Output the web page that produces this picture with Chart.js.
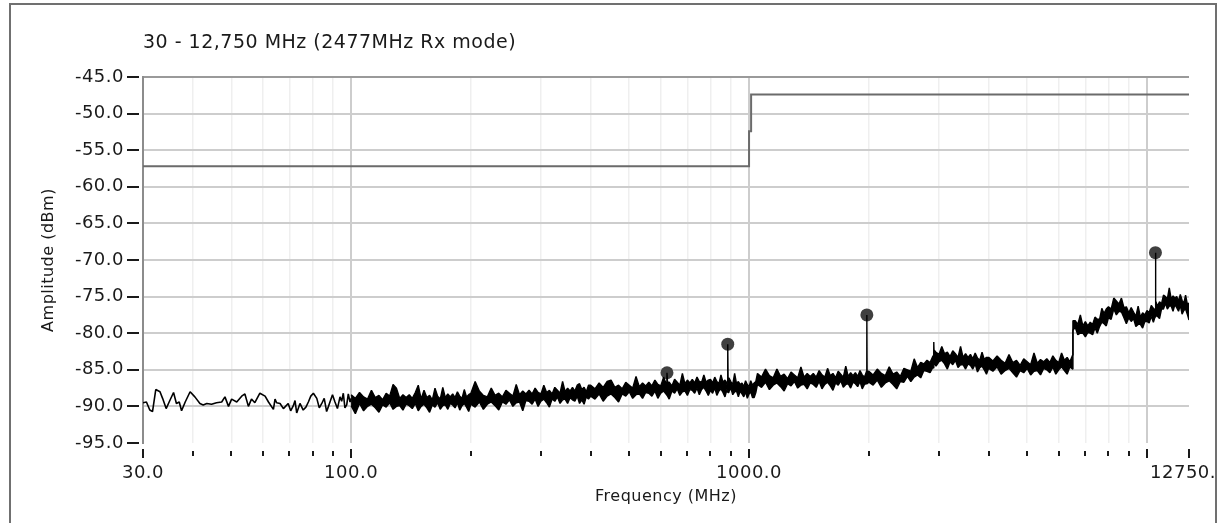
<!DOCTYPE html>
<html>
<head>
<meta charset="utf-8">
<script src="https://cdn.jsdelivr.net/npm/chart.js@4.4.1/dist/chart.umd.min.js"></script>
<style>
  html, body { margin: 0; padding: 0; background: #fff; }
  #wrap { position: relative; width: 1219px; height: 523px; overflow: hidden; }
  #frame {
    position: absolute; left: 9px; top: 3px; width: 1204px; height: 600px;
    border: 2px solid #707070; pointer-events: none;
  }
  #mask { position: absolute; left: 1217px; top: 0; width: 2px; height: 523px; background: #fff; }
</style>
</head>
<body>
<div id="wrap">
  <canvas id="chart" width="1219" height="523"></canvas>
  <div id="frame"></div>
  <div id="mask"></div>
</div>
<script>
// thin part of the trace, [MHz, dBm]
const trace30to100 = [
  [30.0,-89.5],[30.6,-89.4],[31.2,-90.5],[31.7,-90.7],[32.3,-87.7],[33.1,-88.0],[33.6,-88.9],[34.3,-90.3],
  [34.9,-89.4],[35.8,-88.1],[36.4,-89.6],[37.0,-89.4],[37.5,-90.6],[38.3,-89.4],[39.4,-88.0],[40.5,-88.7],
  [41.7,-89.6],[42.5,-89.8],[43.4,-89.6],[44.6,-89.7],[45.9,-89.5],[47.3,-89.4],[48.2,-88.7],[49.2,-90.0],
  [50.1,-89.0],[51.6,-89.4],[53.1,-88.6],[54.1,-88.3],[55.2,-90.0],[56.2,-89.0],[57.3,-89.5],[59.0,-88.2],
  [60.8,-88.6],[62.0,-89.4],[63.8,-90.4],[64.4,-89.0],[65.0,-89.5],[66.3,-89.6],[67.6,-90.3],[69.5,-89.6],
  [70.5,-90.6],[71.6,-89.9],[72.3,-89.2],[73.0,-90.9],[74.4,-89.6],[75.8,-90.5],[77.0,-90.1],[78.1,-89.4],
  [79.2,-88.6],[80.4,-88.2],[82.0,-88.9],[83.2,-90.2],[84.4,-89.6],[85.6,-88.9],[86.8,-90.7],[87.6,-90.1],
  [88.5,-89.4],[89.8,-88.4],[91.1,-89.4],[92.4,-90.3],[93.8,-88.7],[94.7,-89.3],[95.6,-88.2],[96.5,-90.2],
  [97.5,-89.8],[98.4,-88.3],[99.4,-89.4],[100,-88.9]
];

// dense part of the trace as a noise band: [MHz, top dBm, bottom dBm]
const band100to1000 = [
  [100,-88.4,-89.9],[102.5,-88.9,-91.0],[105,-88.1,-89.6],[107.5,-88.7,-90.6],[110,-89.0,-90.0],[112.5,-87.8,-89.7],
  [115,-88.8,-90.2],[117.5,-88.5,-90.8],[120,-89.1,-89.8],[122.5,-88.2,-90.1],[125,-88.6,-89.5],[127.5,-87.0,-90.4],
  [130,-87.5,-90.0],[132.5,-88.9,-89.9],[135,-88.4,-90.5],[137.5,-88.8,-89.7],[140,-88.4,-89.9],[142.5,-88.9,-90.3],
  [145,-88.1,-89.6],[147.5,-87.1,-90.6],[150,-89.0,-90.0],[152.5,-87.8,-89.7],[155,-88.8,-90.2],[157.5,-88.5,-90.8],
  [160,-89.1,-89.8],[162.5,-87.5,-90.1],[165,-88.6,-89.5],[167.5,-89.0,-90.4],[170,-87.4,-89.9],[172.5,-88.8,-89.8],
  [175,-88.3,-90.4],[177.5,-88.7,-89.6],[180,-88.3,-89.8],[182.5,-88.8,-90.2],[185,-88.0,-89.5],[187.5,-88.6,-90.5],
  [190,-88.9,-89.9],[192.5,-87.7,-89.6],[195,-88.7,-90.1],[197.5,-88.4,-90.7],
  [200,-88.2,-89.7],[205,-86.6,-90.1],[210,-87.9,-89.4],[215,-88.5,-90.4],[220,-88.7,-89.7],[225,-87.5,-89.4],
  [230,-88.5,-89.9],[235,-88.2,-90.5],[240,-88.7,-89.4],[245,-87.8,-89.7],[250,-88.2,-89.1],[255,-88.6,-90.0],
  [260,-87.0,-89.5],[265,-88.4,-89.4],[270,-87.9,-90.6],[275,-88.3,-89.2],[280,-87.8,-89.3],[285,-88.3,-89.7],
  [290,-87.5,-89.0],[295,-88.1,-90.0],[300,-88.3,-89.3],[305,-87.1,-89.0],[310,-88.1,-89.5],[315,-87.8,-90.1],
  [320,-88.3,-89.0],[325,-87.4,-89.3],[330,-87.8,-88.7],[335,-88.2,-89.6],[340,-86.6,-89.1],[345,-88.0,-89.0],
  [350,-87.5,-89.6],[355,-87.9,-88.8],[360,-87.4,-89.1],[365,-87.9,-89.3],[370,-87.1,-88.6],[375,-86.9,-89.6],
  [380,-87.7,-89.1],[385,-87.4,-89.7],[390,-88.0,-88.7],[395,-87.1,-89.0],
  [400,-87.1,-88.6],[410,-87.6,-89.0],[420,-86.8,-88.3],[430,-87.4,-89.3],[440,-86.6,-88.6],[450,-86.4,-88.3],
  [460,-87.4,-88.8],[470,-87.1,-89.4],[480,-87.6,-88.3],[490,-86.7,-88.6],[500,-87.1,-88.0],[510,-87.5,-88.9],
  [520,-85.9,-88.4],[530,-87.3,-88.3],[540,-86.8,-88.9],[550,-87.2,-88.1],[560,-86.7,-88.2],[570,-87.2,-88.6],
  [580,-86.4,-87.9],[590,-87.0,-88.9],[600,-87.2,-88.2],[610,-86.0,-87.9],[620,-87.0,-88.4],[622,-85.4,-88.4],
  [624,-86.7,-88.6],[630,-86.7,-89.0],[640,-87.2,-87.9],[650,-86.3,-88.2],[660,-86.7,-87.6],[670,-87.1,-88.5],
  [680,-85.5,-88.0],[690,-86.9,-87.9],[700,-86.4,-88.5],[710,-86.8,-87.7],[720,-86.3,-87.8],[730,-86.8,-88.2],
  [740,-86.0,-87.5],[750,-86.6,-88.4],[760,-86.7,-87.7],[770,-85.7,-87.4],[780,-86.7,-87.9],[790,-86.4,-88.5],
  [800,-86.3,-87.8],[810,-86.8,-88.2],[820,-86.0,-87.5],[830,-86.6,-88.5],[840,-86.9,-87.9],[850,-85.7,-87.6],
  [860,-86.7,-88.1],[870,-86.4,-88.7],[880,-87.0,-87.7],[882,-86.5,-88.0],[884,-81.5,-88.0],[886,-86.5,-88.1],
  [890,-86.1,-88.0],[900,-86.6,-87.5],[910,-87.0,-88.4],[920,-85.5,-88.0],[930,-86.9,-87.9],[940,-86.6,-88.7],
  [950,-87.0,-87.9],[960,-86.8,-88.3],[970,-87.3,-88.7],[980,-86.5,-88.0],[990,-87.0,-88.9],[1000,-87.3,-88.3]
];

const band1000to12750 = [
  [1010,-86.5,-88.0],[1020,-87.1,-88.8],[1030,-86.8,-88.8],[1040,-86.6,-88.1],
  [1050,-85.5,-87.0],[1075,-86.0,-87.4],[1100,-84.9,-86.7],[1125,-85.8,-87.7],[1150,-86.1,-87.1],[1175,-84.9,-86.8],
  [1200,-85.9,-87.3],[1225,-85.6,-87.9],[1250,-86.2,-86.9],[1275,-85.3,-87.2],[1300,-85.7,-86.6],[1325,-86.1,-87.5],
  [1350,-84.6,-87.1],[1375,-86.0,-87.0],[1400,-85.5,-87.6],[1425,-85.9,-86.8],[1450,-85.5,-87.0],[1475,-86.0,-87.4],
  [1500,-85.1,-86.6],[1525,-85.7,-87.6],[1550,-86.0,-87.0],[1575,-84.8,-86.7],[1600,-85.8,-87.2],[1625,-85.5,-87.8],
  [1650,-86.1,-86.8],[1675,-85.2,-87.1],[1700,-85.6,-86.5],[1725,-86.0,-87.4],[1750,-84.5,-87.0],[1775,-85.9,-86.9],
  [1800,-85.4,-87.5],[1825,-85.8,-86.7],[1850,-85.4,-86.9],[1875,-85.9,-87.3],[1900,-85.1,-86.6],[1925,-85.7,-87.6],
  [1950,-86.0,-87.0],[1974,-85.2,-86.9],[1977,-77.5,-86.9],[1980,-85.3,-86.9],
  [2000,-85.2,-86.7],[2050,-85.7,-87.1],[2100,-84.9,-86.4],[2150,-85.5,-87.4],[2200,-85.8,-86.8],[2250,-84.6,-86.5],
  [2300,-85.6,-87.0],[2350,-85.3,-87.6],[2400,-85.9,-86.6],[2450,-84.8,-86.7],[2500,-85.0,-85.9],[2550,-85.2,-86.6],
  [2600,-83.5,-86.0],[2650,-84.7,-85.7],[2700,-84.0,-86.1],[2750,-84.2,-85.1],[2800,-83.7,-85.2],[2850,-84.0,-85.4],
  [2900,-83.1,-84.6],[2912,-81.2,-84.8],[2916,-82.3,-83.9],[2950,-82.6,-84.5],[3000,-82.9,-83.9],[3050,-81.8,-83.7],
  [3100,-82.8,-84.2],[3150,-82.6,-84.9],[3200,-83.2,-83.9],[3250,-82.4,-84.3],[3300,-82.8,-83.7],[3350,-83.3,-84.7],
  [3400,-81.8,-84.3],[3450,-83.3,-84.3],[3500,-82.8,-84.9],[3550,-83.3,-84.2],[3600,-82.9,-84.4],[3650,-83.5,-84.9],
  [3700,-82.7,-84.2],[3750,-83.4,-85.3],[3800,-83.7,-84.7],[3850,-82.6,-84.5],[3900,-83.6,-85.0],[3950,-83.3,-85.6],
  [4000,-83.3,-84.8],[4100,-83.8,-85.2],[4200,-83.1,-84.6],[4300,-83.7,-85.6],[4400,-84.1,-85.1],[4500,-82.9,-84.8],
  [4600,-84.0,-85.4],[4700,-83.7,-86.0],[4800,-84.4,-85.1],[4900,-83.5,-85.4],[5000,-83.9,-84.8],[5100,-84.3,-85.7],
  [5200,-82.7,-85.2],[5300,-84.1,-85.1],[5400,-83.6,-85.7],[5500,-83.9,-84.8],[5600,-83.5,-85.0],[5700,-84.0,-85.4],
  [5800,-83.1,-84.6],[5900,-83.7,-85.6],[6000,-84.0,-85.0],[6100,-82.7,-84.6],[6200,-83.7,-85.1],[6300,-83.3,-85.6],
  [6400,-83.9,-84.6],[6500,-83.0,-84.9],[6514,-78.3,-79.6],[6600,-78.3,-79.2],[6700,-78.8,-80.2],[6800,-77.5,-80.0],
  [6900,-79.0,-80.0],[7000,-78.4,-80.5],[7100,-79.0,-79.9],[7200,-78.5,-80.0],[7300,-78.8,-80.2],[7400,-77.8,-79.3],
  [7500,-78.1,-80.0],[7600,-78.1,-79.1],[7700,-76.6,-78.5],[7800,-77.3,-78.7],[7900,-76.7,-79.0],
  [8000,-76.4,-77.9],[8125,-76.7,-78.1],[8250,-75.2,-76.7],[8375,-75.6,-77.5],[8500,-76.0,-77.0],[8625,-75.2,-77.1],
  [8750,-76.5,-77.9],[8875,-76.4,-78.7],[9000,-77.2,-77.9],[9125,-76.5,-78.4],[9250,-77.1,-78.0],[9375,-77.7,-79.1],
  [9500,-76.3,-78.8],[9625,-77.8,-78.8],[9750,-77.2,-79.3],[9875,-77.5,-78.4],[10000,-76.9,-78.4],[10125,-77.2,-78.6],
  [10250,-76.2,-77.7],[10375,-76.6,-78.5],[10475,-76.8,-77.8],[10500,-69.0,-77.8],[10525,-75.6,-77.5],[10625,-76.3,-77.7],
  [10750,-75.7,-78.0],[10875,-76.0,-76.7],[11000,-74.8,-76.7],[11125,-75.0,-75.9],[11250,-75.3,-76.7],[11375,-73.8,-76.3],
  [11500,-75.3,-76.3],[11625,-74.9,-77.0],[11750,-75.2,-76.1],[11875,-75.0,-76.5],[12000,-75.6,-77.0],[12125,-74.7,-76.2],
  [12250,-75.5,-77.4],[12375,-75.9,-76.9],[12500,-74.8,-76.7],[12625,-76.0,-77.4],[12750,-75.9,-78.2]
];

// peak markers
const peakFreqs = [622, 884, 1977, 10500];
const peakAmps  = [-85.4, -81.5, -77.5, -69.0];

// limit line
const limitFreqs = [30, 1000, 1000, 1012, 1012, 12750];
const limitAmps  = [-57.2, -57.2, -52.4, -52.4, -47.4, -47.4];

// axes
const xMajorTicks = [30, 100, 1000, 10000, 12750];
const xMinorTicks = [40, 50, 60, 70, 80, 90, 200, 300, 400, 500, 600, 700, 800, 900,
                     2000, 3000, 4000, 5000, 6000, 7000, 8000, 9000];
const xLabelValues = [30, 100, 1000, 12750];
const xLabelTexts  = ['30.0', '100.0', '1000.0', '12750.0'];
const yLabelValues = [-95, -90, -85, -80, -75, -70, -65, -60, -55, -50, -45];
const yMinorValues = [-92.5, -87.5, -82.5, -77.5, -72.5, -67.5, -62.5, -57.5, -52.5, -47.5];

const FONT = "'DejaVu Sans', sans-serif";
const band = [...band100to1000, ...band1000to12750];

const tickMarks = {
  id: 'tickMarks',
  beforeDraw(chart) {
    chart.ctx.letterSpacing = '0.5px';
  },
  afterDraw(chart) {
    const { ctx, chartArea, scales: { x, y } } = chart;
    ctx.save();
    ctx.strokeStyle = '#1a1a1a';
    ctx.lineWidth = 2;
    ctx.beginPath();
    xMajorTicks.forEach((v) => {
      const px = Math.round(x.getPixelForValue(v));
      ctx.moveTo(px, chartArea.bottom + 6);
      ctx.lineTo(px, chartArea.bottom + 15);
    });
    xMinorTicks.forEach((v) => {
      const px = Math.round(x.getPixelForValue(v));
      ctx.moveTo(px, chartArea.bottom + 8);
      ctx.lineTo(px, chartArea.bottom + 13);
    });
    yLabelValues.forEach((v) => {
      const py = Math.round(y.getPixelForValue(v));
      ctx.moveTo(chartArea.left - 16, py);
      ctx.lineTo(chartArea.left - 4, py);
    });
    ctx.stroke();
    ctx.restore();
  }
};

new Chart(document.getElementById('chart'), {
  type: 'line',
  data: {
    datasets: [
      {
        label: 'Limit',
        data: limitFreqs.map((f, i) => ({ x: f, y: limitAmps[i] })),
        borderColor: '#6b6b6b',
        borderWidth: 2,
        pointRadius: 0,
      },
      {
        label: 'Trace 30-100',
        data: trace30to100.map(([f, a]) => ({ x: f, y: a })),
        borderColor: '#000',
        borderWidth: 1.6,
        borderJoinStyle: 'bevel',
        pointRadius: 0,
      },
      {
        label: 'Trace top',
        data: band.map(([f, hi]) => ({ x: f, y: hi })),
        borderColor: '#000',
        borderWidth: 1.4,
        borderJoinStyle: 'bevel',
        pointRadius: 0,
        fill: false,
      },
      {
        label: 'Trace bottom',
        data: band.map(([f, , lo]) => ({ x: f, y: lo })),
        borderColor: '#000',
        borderWidth: 1.4,
        borderJoinStyle: 'bevel',
        backgroundColor: '#000',
        pointRadius: 0,
        fill: '-1',
      },
      {
        label: 'Peaks',
        data: peakFreqs.map((f, i) => ({ x: f, y: peakAmps[i] })),
        showLine: false,
        pointRadius: 6.5,
        pointBackgroundColor: '#404040',
        pointBorderColor: '#404040',
        pointBorderWidth: 0,
      },
    ],
  },
  options: {
    responsive: false,
    animation: false,
    layout: { padding: { left: 0, right: 30, top: 0, bottom: 0 } },
    plugins: {
      legend: { display: false },
      tooltip: { enabled: false },
      title: {
        display: true,
        text: '30 - 12,750 MHz (2477MHz Rx mode)',
        align: 'start',
        fullSize: false,
        color: '#1a1a1a',
        font: { family: FONT, size: 19, weight: 'normal' },
        padding: { top: 31.6, bottom: 22.6 },
      },
    },
    scales: {
      x: {
        type: 'logarithmic',
        min: 30,
        max: 12750,
        afterFit: (scale) => {
          scale.height = 80;
          scale.paddingLeft = 0;
          scale.paddingRight = 0;
        },
        afterBuildTicks: (scale) => {
          scale.ticks = [...xMajorTicks, ...xMinorTicks].sort((a, b) => a - b).map((v) => ({ value: v }));
        },
        border: { display: false },
        grid: {
          drawTicks: false,
          color: (c) => {
            const v = c.tick && c.tick.value;
            if (v === 30 || v === 12750) return 'rgba(0,0,0,0)';
            return xMajorTicks.includes(v) ? '#cdcdcd' : '#efefef';
          },
          lineWidth: (c) => (c.tick && xMajorTicks.includes(c.tick.value) ? 2 : 1.5),
        },
        ticks: {
          autoSkip: false,
          maxRotation: 0,
          minRotation: 0,
          padding: 20,
          color: '#1a1a1a',
          font: { family: FONT, size: 18 },
          callback: (v) => {
            const i = xLabelValues.indexOf(v);
            return i >= 0 ? xLabelTexts[i] : '';
          },
        },
        title: {
          display: true,
          text: 'Frequency (MHz)',
          color: '#1a1a1a',
          font: { family: FONT, size: 16 },
          padding: { top: 0, bottom: 16.4 },
        },
      },
      y: {
        type: 'linear',
        min: -95,
        max: -45,
        afterFit: (scale) => { scale.width = 143; },
        afterBuildTicks: (scale) => {
          scale.ticks = [...yLabelValues, ...yMinorValues].sort((a, b) => a - b).map((v) => ({ value: v }));
        },
        border: { display: true, color: '#8c8c8c', width: 2 },
        grid: {
          drawTicks: false,
          color: (c) => {
            const v = c.tick && c.tick.value;
            if (v === -45) return '#9a9a9a';
            if (v === -95) return 'rgba(0,0,0,0)';
            return yLabelValues.includes(v) ? '#cdcdcd' : '#f0f0f0';
          },
          lineWidth: (c) => (c.tick && yLabelValues.includes(c.tick.value) ? 2 : 1.5),
        },
        ticks: {
          padding: 19,
          color: '#1a1a1a',
          font: { family: FONT, size: 18 },
          callback: (v) => (yLabelValues.includes(v) ? v.toFixed(1) : ''),
        },
        title: {
          display: true,
          text: 'Amplitude (dBm)',
          color: '#1a1a1a',
          font: { family: FONT, size: 16 },
          padding: { top: 39.4, bottom: 0 },
        },
      },
    },
  },
  plugins: [tickMarks],
});
</script>
</body>
</html>
